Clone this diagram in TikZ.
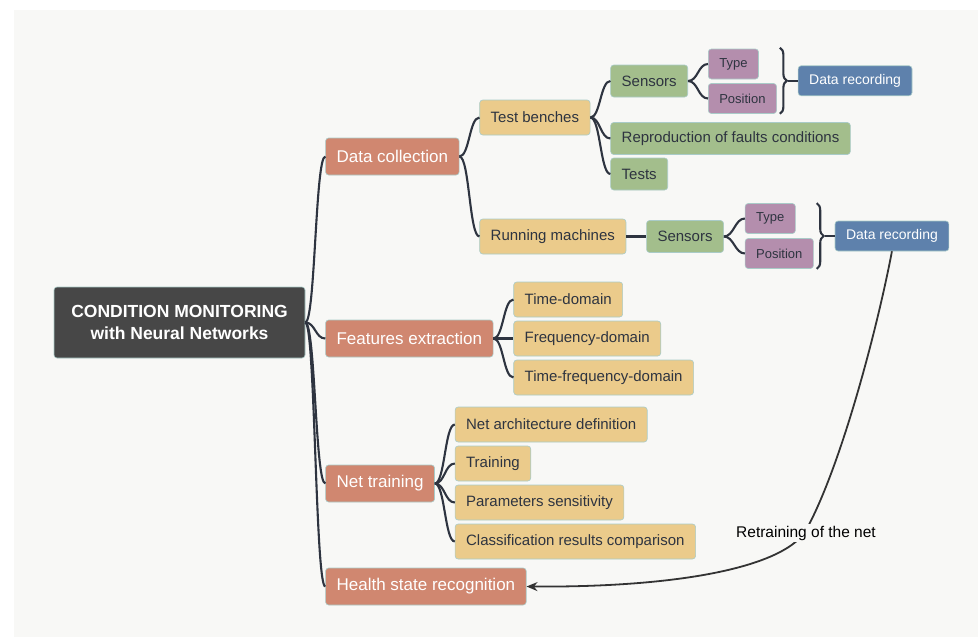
\documentclass[tikz,border=0pt]{standalone}
\usepackage{fontspec}
\setmainfont{Liberation Sans}
\usetikzlibrary{positioning, calc, arrows.meta, decorations.pathreplacing}

\definecolor{canvas}{HTML}{F8F8F6}
\definecolor{ink}{HTML}{2E3440}
\definecolor{rootgray}{HTML}{474747}
\definecolor{salmon}{HTML}{D08770}
\definecolor{sand}{HTML}{EBCB8B}
\definecolor{sage}{HTML}{A3BE8C}
\definecolor{mauve}{HTML}{B48EAD}
\definecolor{steel}{HTML}{5E81AC}
\definecolor{rim}{HTML}{A9CBC8}

\newlength{\branchgap}
\setlength{\branchgap}{20pt}
\newlength{\bracegap}
\setlength{\bracegap}{10pt}

\tikzstyle{box} = [rectangle, rounded corners=3pt, draw=rim, line width=0.6pt, inner xsep=11pt, inner ysep=0pt]
\tikzstyle{rootbox} = [box, fill=rootgray, text=white, align=center, minimum width=251pt, minimum height=71pt, font=\fontsize{17.5pt}{22pt}\selectfont\bfseries]
\tikzstyle{mainbox} = [box, fill=salmon, text=white, minimum height=37pt, font=\fontsize{17pt}{20pt}\selectfont]
\tikzstyle{subbox} = [box, fill=sand, text=ink, minimum height=35pt, font=\fontsize{15pt}{18pt}\selectfont]
\tikzstyle{leafbox} = [box, fill=sage, text=ink, minimum height=32pt, font=\fontsize{15pt}{18pt}\selectfont]
\tikzstyle{tagbox} = [box, fill=mauve, text=ink, minimum height=30pt, font=\fontsize{13pt}{16pt}\selectfont]
\tikzstyle{recbox} = [box, fill=steel, text=white, minimum height=30pt, font=\fontsize{14pt}{17pt}\selectfont]
\tikzstyle{link} = [draw=ink, line width=2.1pt]
\tikzstyle{curly} = [draw=ink, line width=2.1pt, decorate, decoration={brace, amplitude=7pt}]
\tikzstyle{feedback} = [draw=black!80, line width=1.8pt, -{Stealth[length=11pt, width=9pt]}]
\tikzstyle{note} = [fill=canvas, inner sep=2pt, font=\fontsize{15.5pt}{18pt}\selectfont]

\begin{document}
\begin{tikzpicture}[x=1pt, y=-1pt]

    \useasboundingbox (0,0) rectangle (978,637);
    \fill [canvas] (14,10) rectangle (978,637);

    % Root
    \node (root) [rootbox] at (179.5,322.5) {CONDITION MONITORING\\with Neural Networks};

    % Main branches
    \node (datacoll) [mainbox, right=\branchgap of root, yshift=166pt] {Data collection};
    \node (features) [mainbox, right=\branchgap of root, yshift=-16pt] {Features extraction};
    \node (nettrain) [mainbox, right=\branchgap of root, yshift=-161pt] {Net training};
    \node (health) [mainbox, right=\branchgap of root, yshift=-264pt] {Health state recognition};

    % Data collection
    \node (benches) [subbox, right=\branchgap of datacoll, yshift=39pt] {Test benches};
    \node (running) [subbox, right=\branchgap of datacoll, yshift=-80pt] {Running machines};

    \node (sens1) [leafbox, right=\branchgap of benches, yshift=36.5pt] {Sensors};
    \node (repro) [leafbox, right=\branchgap of benches, yshift=-21pt] {Reproduction of faults conditions};
    \node (tests) [leafbox, right=\branchgap of benches, yshift=-56.5pt] {Tests};

    \node (type1) [tagbox, right=\branchgap of sens1, yshift=17pt] {Type};
    \node (pos1) [tagbox, right=\branchgap of sens1, yshift=-17.5pt] {Position};

    \node (sens2) [leafbox, right=\branchgap of running] {Sensors};
    \node (type2) [tagbox, right=21pt of sens2, yshift=18pt] {Type};
    \node (pos2) [tagbox, right=21pt of sens2, yshift=-17pt] {Position};

    % Braces
    \coordinate (br1a) at ($(pos1.east |- type1.north)+(3,-1)$);
    \coordinate (br1b) at ($(pos1.south east)+(3,0)$);
    \coordinate (tip1) at ($(br1a)!0.5!(br1b)+(8,0)$);
    \node (rec1) [recbox, right=\bracegap of tip1] {Data recording};

    \coordinate (br2a) at ($(pos2.east |- type2.north)+(3,0)$);
    \coordinate (br2b) at ($(pos2.south east)+(3,0)$);
    \coordinate (tip2) at ($(br2a)!0.5!(br2b)+(8,0)$);
    \node (rec2) [recbox, right=\bracegap of tip2] {Data recording};

    % Features extraction
    \node (timedom) [subbox, right=\branchgap of features, yshift=39pt] {Time-domain};
    \node (freqdom) [subbox, right=\branchgap of features] {Frequency-domain};
    \node (tfdom) [subbox, right=\branchgap of features, yshift=-39pt] {Time-frequency-domain};

    % Net training
    \node (archdef) [subbox, right=\branchgap of nettrain, yshift=59pt] {Net architecture definition};
    \node (training) [subbox, right=\branchgap of nettrain, yshift=20pt] {Training};
    \node (paramsens) [subbox, right=\branchgap of nettrain, yshift=-19pt] {Parameters sensitivity};
    \node (classres) [subbox, right=\branchgap of nettrain, yshift=-58pt] {Classification results comparison};

    % ==== Connectors
    \draw [link] (root.east) .. controls +(10,0) and +(-10,0) .. (datacoll.west);
    \draw [link] (root.east) .. controls +(10,0) and +(-10,0) .. (features.west);
    \draw [link] (root.east) .. controls +(10,0) and +(-10,0) .. (nettrain.west);
    \draw [link] (root.east) .. controls +(10,0) and +(-10,0) .. (health.west);

    \draw [link] (datacoll.east) .. controls +(10,0) and +(-10,0) .. (benches.west);
    \draw [link] (datacoll.east) .. controls +(10,0) and +(-10,0) .. (running.west);

    \draw [link] (benches.east) .. controls +(10,0) and +(-10,0) .. (sens1.west);
    \draw [link] (benches.east) .. controls +(10,0) and +(-10,0) .. (repro.west);
    \draw [link] (benches.east) .. controls +(10,0) and +(-10,0) .. (tests.west);

    \draw [link] (sens1.east) .. controls +(10,0) and +(-10,0) .. (type1.west);
    \draw [link] (sens1.east) .. controls +(10,0) and +(-10,0) .. (pos1.west);

    \draw [link] (running) -- (sens2);
    \draw [link] (sens2.east) .. controls +(10,0) and +(-10,0) .. (type2.west);
    \draw [link] (sens2.east) .. controls +(10,0) and +(-10,0) .. (pos2.west);

    \draw [curly] (br1a) -- (br1b);
    \draw [link] (tip1) -- (rec1);
    \draw [curly] (br2a) -- (br2b);
    \draw [link] (tip2) -- (rec2);

    \draw [link] (features.east) .. controls +(10,0) and +(-10,0) .. (timedom.west);
    \draw [link] (features.east) .. controls +(10,0) and +(-10,0) .. (freqdom.west);
    \draw [link] (features.east) .. controls +(10,0) and +(-10,0) .. (tfdom.west);

    \draw [link] (nettrain.east) .. controls +(10,0) and +(-10,0) .. (archdef.west);
    \draw [link] (nettrain.east) .. controls +(10,0) and +(-10,0) .. (training.west);
    \draw [link] (nettrain.east) .. controls +(10,0) and +(-10,0) .. (paramsens.west);
    \draw [link] (nettrain.east) .. controls +(10,0) and +(-10,0) .. (classres.west);

    % Retraining loop
    \coordinate (bend) at (805,532);
    \draw [feedback] (rec2.south) .. controls +(-15,79) and +(35,-62) .. (bend) .. controls +(-25,36) and +(150,1) .. (health.east);
    \node (retrain) [note] at (806,533) {Retraining of the net};

\end{tikzpicture}
\end{document}
